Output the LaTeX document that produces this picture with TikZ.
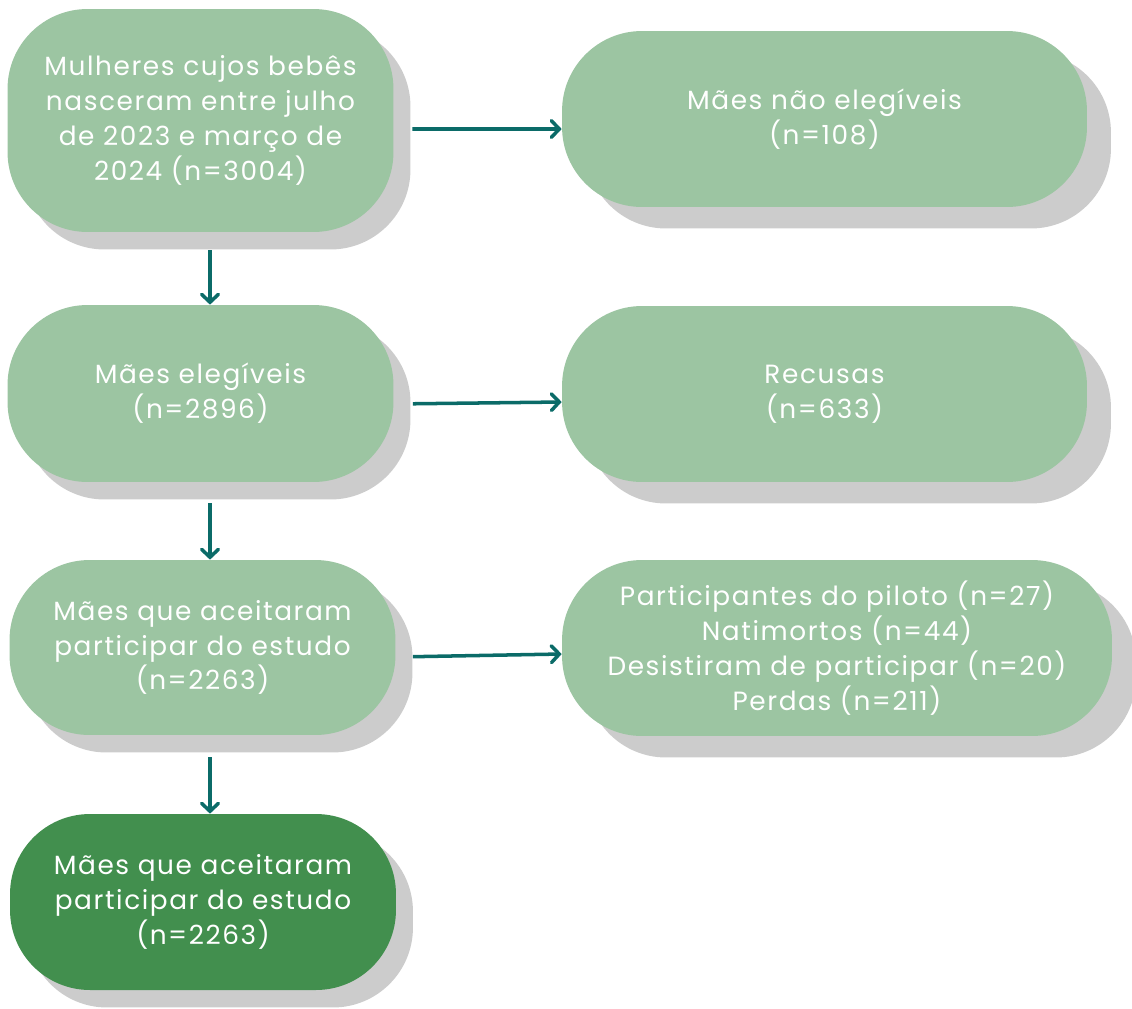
\documentclass[tikz,border=0pt]{standalone}
\usepackage{fontspec}
\setmainfont[LetterSpace=6]{Poppins}
\usetikzlibrary{arrows.meta,shadows}

\definecolor{boxgreen}{HTML}{9CC5A2}
\definecolor{darkgreen}{HTML}{428F4E}
\definecolor{shadowgray}{HTML}{CCCCCC}
\definecolor{arrowteal}{HTML}{0B6B68}

\tikzset{
  box/.style={rectangle, rounded corners=1.6cm, fill=boxgreen, text=white, align=center,
    inner sep=0pt, font=\fontsize{15}{19.8}\selectfont},
  leftbox/.style={box, minimum width=7.72cm,
    drop shadow={shadow xshift=0.34cm, shadow yshift=-0.35cm, fill=shadowgray, opacity=1}},
  rightbox/.style={box,
    drop shadow={shadow xshift=0.48cm, shadow yshift=-0.43cm, fill=shadowgray, opacity=1}},
  flow/.style={draw=arrowteal, line width=2pt, -{Straight Barb[length=4.5pt,width=9.5pt,line cap=round]}}
}

\begin{document}
\begin{tikzpicture}[x=0.02cm, y=-0.02cm]
    \useasboundingbox (0,0) rectangle (1132,1008);

    % Left column
    \node[leftbox, minimum height=4.46cm] (women) at (200.5,120.5) {Mulheres cujos bebês\\nasceram entre julho\\de 2023 e março de\\2024 (n=3004)};
    \node[leftbox, minimum height=3.54cm] (eligible) at (200.5,393.5) {Mães elegíveis\\(n=2896)};
    \node[leftbox, minimum height=3.5cm] (accepted) at (202.5,647.5) {Mães que aceitaram\\participar do estudo\\(n=2263)};
    \node[leftbox, minimum height=3.52cm, fill=darkgreen] (final) at (203,902) {Mães que aceitaram\\participar do estudo\\(n=2263)};

    % Right column
    \node[rightbox, minimum width=10.5cm, minimum height=3.52cm] (notelig) at (824.5,119) {Mães não elegíveis\\(n=108)};
    \node[rightbox, minimum width=10.5cm, minimum height=3.52cm] (refusals) at (824.5,394) {Recusas\\(n=633)};
    \node[rightbox, minimum width=11cm, minimum height=3.52cm] (losses) at (837,648) {Participantes do piloto (n=27)\\Natimortos (n=44)\\Desistiram de participar (n=20)\\Perdas (n=211)};

    % Arrows down
    \draw[flow, shorten <=0.36cm] ([xshift=0.19cm]women.south) -- ([xshift=0.19cm]women.south |- eligible.north);
    \draw[flow, shorten <=0.42cm] ([xshift=0.19cm]eligible.south) -- ([xshift=0.19cm]eligible.south |- accepted.north);
    \draw[flow, shorten <=0.44cm] ([xshift=0.15cm]accepted.south) -- ([xshift=0.15cm]accepted.south |- final.north);

    % Arrows right
    \draw[flow, shorten <=0.37cm] ([yshift=-0.17cm]women.east) -- ([yshift=-0.2cm]notelig.west);
    \draw[flow, shorten <=0.38cm] ([yshift=-0.21cm]eligible.east) -- ([yshift=-0.16cm]refusals.west);
    \draw[flow, shorten <=0.34cm] ([yshift=-0.19cm]accepted.east) -- ([yshift=-0.12cm]losses.west);
\end{tikzpicture}
\end{document}
